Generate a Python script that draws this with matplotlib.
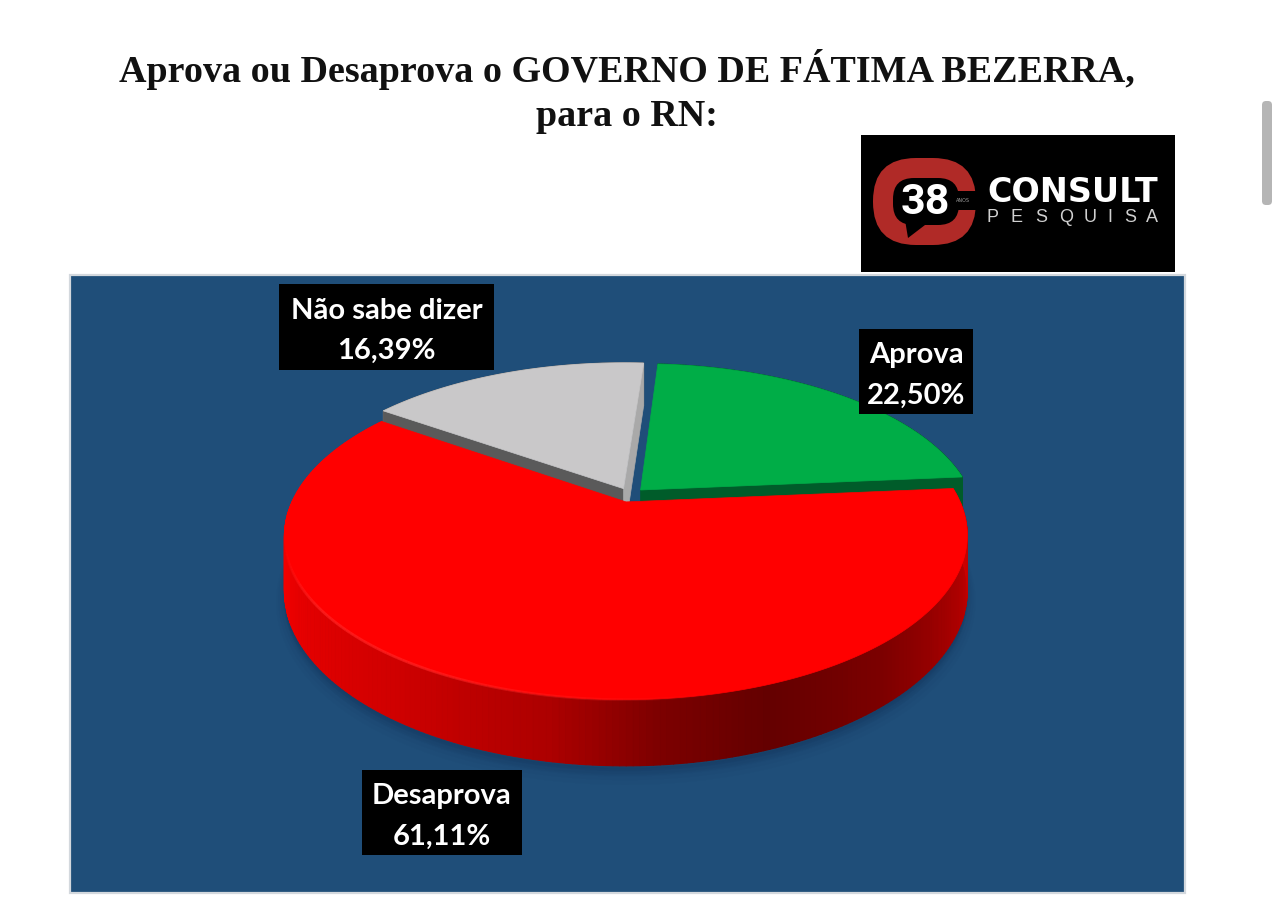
import numpy as np
import matplotlib
matplotlib.use("Agg")
import matplotlib.pyplot as plt
from matplotlib.patches import Rectangle, FancyBboxPatch, Polygon
from matplotlib.collections import PolyCollection, LineCollection
from matplotlib.colors import to_rgb

# ---- data ----
categories = ["Aprova", "Desaprova", "Não sabe dizer"]
values = [22.50, 61.11, 16.39]
value_labels = ["22,50%", "61,11%", "16,39%"]
title_lines = ["Aprova ou Desaprova o GOVERNO DE FÁTIMA BEZERRA,", "para o RN:"]

# ---- style ----
top_colors = ["#00AD47", "#FF0000", "#C9C8C9"]
NAVY = "#1F4E79"
CX, CY = 630.0, 495.0
A, B, K, H, EXPLODE = 331.0, 154.0, 0.205, 52.0, 0.046
START = 86.0

fig = plt.figure(figsize=(12.8, 9.06), dpi=100, facecolor="white")
ax = fig.add_axes([0, 0, 1, 1])
ax.set_xlim(0, 1280)
ax.set_ylim(906, 0)
ax.axis("off")


def project(t_deg, r, z, off):
    t = np.radians(t_deg)
    x = off[0] + r * np.cos(t)
    y = off[1] + r * np.sin(t)
    s = 1.0 / (1.0 + K * y)
    return np.column_stack([CX + A * x * s, CY - B * y * s + H * z * s])


def shade(stops, t_deg):
    angs = [p[0] for p in stops]
    cols = np.array([to_rgb(p[1]) for p in stops])
    return np.column_stack([np.interp(t_deg, angs, cols[:, i]) for i in range(3)])


def wall(t0, t1, off, stops, zo):
    ts = np.linspace(t0, t1, 240)
    up = project(ts, 1.0, 0.0, off)
    lo = project(ts, 1.0, 1.0, off)
    polys = [[up[i], up[i + 1], lo[i + 1], lo[i]] for i in range(len(ts) - 1)]
    mids = (ts[:-1] + ts[1:]) / 2
    cols = shade(stops, np.mod(mids, 360))
    ax.add_collection(PolyCollection(polys, facecolors=cols, edgecolors=cols,
                                     linewidths=0.8, zorder=zo))


def radial_wall(t, off, color, zo):
    c = project(np.array([t]), 0.0, 0.0, off)[0]
    p = project(np.array([t]), 1.0, 0.0, off)[0]
    p2 = project(np.array([t]), 1.0, 1.0, off)[0]
    c2 = project(np.array([t]), 0.0, 1.0, off)[0]
    ax.add_patch(Polygon([c, p, p2, c2], closed=True, fc=color, ec=color, lw=0.5, zorder=zo))


def top_face(t0, t1, off, color, zo):
    ts = np.linspace(t0, t1, 300)
    pts = np.vstack([project(np.array([0.0]), 0.0, 0.0, off), project(ts, 1.0, 0.0, off)])
    ax.add_patch(Polygon(pts, closed=True, fc=color, ec=color, lw=0.5, zorder=zo))


# panel
ax.add_patch(Rectangle((70, 275), 1115, 618, fc=NAVY, ec="#D3D8DD", lw=1.6, zorder=1))

# slice angles from the values, clockwise
edges = START - np.concatenate([[0], np.cumsum(values)]) * 3.6
mids = (edges[:-1] + edges[1:]) / 2
offs = [(EXPLODE * np.cos(np.radians(m)), EXPLODE * np.sin(np.radians(m))) for m in mids]

# soft shadow under the red slice
for g, alpha in zip([12, 9, 6, 3], [0.03, 0.04, 0.05, 0.06]):
    ts = np.linspace(edges[2], edges[1], 200)
    pts = project(ts, 1.0, 1.0, offs[1]) + np.array([0, g * 0.9])
    ax.add_patch(Polygon(pts, closed=True, fc="#0B2A48", ec="#0B2A48", lw=g, alpha=alpha, zorder=2))

red_stops = [(0, "#D00000"), (9, "#D80000"), (150, "#FF0000"), (180, "#FF0000"),
             (205, "#EA0000"), (235, "#D00000"), (260, "#AC0000"), (275, "#7C0000"),
             (290, "#640000"), (310, "#7C0000"), (330, "#A40000"), (350, "#C40000"), (360, "#D00000")]

# grey slice (back)
wall(edges[3], edges[2], offs[2], [(0, "#777777"), (360, "#777777")], 3)
radial_wall(edges[2], offs[2], "#5A5A5A", 4)
radial_wall(edges[3], offs[2], "#A9A9A9", 4)
top_face(edges[3], edges[2], offs[2], top_colors[2], 5)

# green slice (back)
wall(edges[1], edges[0], offs[0], [(0, "#005C2A"), (360, "#005C2A")], 3)
radial_wall(edges[1], offs[0], "#005C2A", 4)
top_face(edges[1], edges[0], offs[0], top_colors[0], 5)

# red slice (front)
wall(edges[2], edges[1], offs[1], red_stops, 6)
top_face(edges[2], edges[1], offs[1], top_colors[1], 7)

# fading highlight on the rim
ts = np.linspace(195, 285, 90)
rim = project(ts, 1.0, 0.0, offs[1])
segs = [[rim[i], rim[i + 1]] for i in range(len(ts) - 1)]
fade = np.minimum(np.linspace(0, 2.5, len(segs)), np.linspace(1.2, 0, len(segs)))
fade = np.clip(fade, 0, 0.6)
seg_cols = [(1.0, 0.16, 0.16, f) for f in fade]
ax.add_collection(LineCollection(segs, colors=seg_cols, linewidths=2.0, zorder=8))

# data labels
label_boxes = [(859, 329, 114, 85), (362, 770, 160, 85), (279, 284, 215, 86)]
for name, val, (bx, by, bw, bh) in zip(categories, value_labels, label_boxes):
    ax.add_patch(Rectangle((bx, by), bw, bh, fc="black", ec="none", zorder=9))
    ax.text(bx + bw / 2, by + bh / 2 + 4, f"{name}\n{val}", color="white", ha="center", va="center",
            fontsize=21, fontfamily="Lato", fontweight="bold", linespacing=1.68, zorder=10)

# title
for line, y in zip(title_lines, [69, 117]):
    ax.text(627, y, line, ha="center", va="center", color="#111111",
            fontsize=27.4, fontfamily="Liberation Serif", fontweight="bold")

# logo
ax.add_patch(Rectangle((861, 135), 314, 137, fc="black", ec="none", zorder=3))
LR = "#B02A27"
ax.add_patch(FancyBboxPatch((873, 158), 103, 87, boxstyle="round,pad=0,rounding_size=43",
                            fc=LR, ec="none", zorder=4))
ax.add_patch(FancyBboxPatch((893, 178), 66, 47, boxstyle="round,pad=0,rounding_size=21",
                            fc="black", ec="none", zorder=5))
ax.add_patch(Rectangle((945, 191), 34, 19, fc="black", ec="none", zorder=5))
ax.add_patch(Polygon([(905, 220), (925, 225), (908, 238)], closed=True, fc="black", ec="none", zorder=5))
ax.text(925, 203, "38", color="white", ha="center", va="center", fontsize=31,
        fontfamily=["Liberation Sans Narrow", "Roboto"], fontweight="bold", zorder=6)
ax.text(963, 201, "ANOS", color="#999999", ha="center", va="center", fontsize=3.5, zorder=6)
ax.text(987, 192, "CONSULT", color="white", ha="left", va="center", fontsize=24,
        fontfamily="DejaVu Sans", fontweight="bold", zorder=6)
for ch, lx in zip("PESQUISA", [993, 1017, 1041, 1066, 1090, 1110, 1130, 1152]):
    ax.text(lx, 218, ch, color="#D0D0D0", ha="center", va="center", fontsize=13,
            fontfamily="Liberation Sans", zorder=6)

# scrollbar
ax.add_patch(FancyBboxPatch((1262, 101), 10, 104, boxstyle="round,pad=0,rounding_size=4",
                            fc="#B5B5B5", ec="none", zorder=3))

fig.savefig("out.png", dpi=100, facecolor="white")
